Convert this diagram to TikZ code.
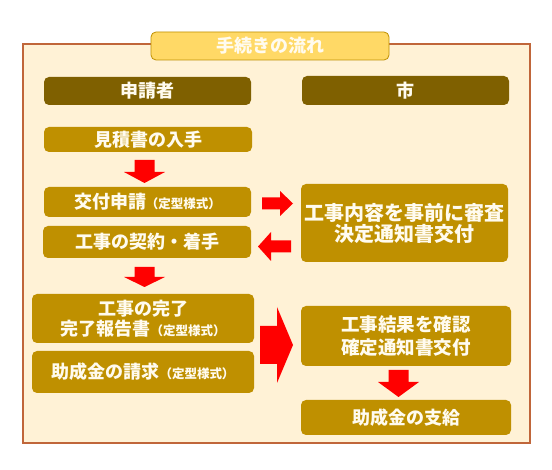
\documentclass[tikz,border=0pt]{standalone}
\usepackage{fontspec}
\setmainfont{Noto Sans CJK JP}
\definecolor{framefill}{HTML}{FFF2D6}
\definecolor{framedraw}{HTML}{C0663A}
\definecolor{titlefill}{HTML}{FFD966}
\definecolor{titledraw}{HTML}{BF9000}
\definecolor{headfill}{HTML}{7F6000}
\definecolor{boxfill}{HTML}{BF9000}
\definecolor{arrowred}{HTML}{FF0000}
\definecolor{txt}{HTML}{FFFBEF}
\newcommand{\smalltxt}[1]{{\fontsize{12.5}{14}\selectfont #1}}
\begin{document}
\begin{tikzpicture}[x=1pt,y=-1pt,
  base/.style={rectangle, rounded corners=5pt, inner sep=0pt, align=center, text=txt},
  box/.style={base, fill=boxfill, font=\bfseries\fontsize{18}{20}\selectfont},
  headbox/.style={base, fill=headfill, font=\bfseries\fontsize{18}{20}\selectfont},
  titlebox/.style={base, fill=titlefill, draw=titledraw, line width=0.8pt, font=\bfseries\fontsize{18}{20}\selectfont},
  blockarrow/.style={fill=arrowred}
]
\useasboundingbox (0,0) rectangle (552,470);
\fill[white] (0,0) rectangle (552,470);
% frame
\draw[fill=framefill, draw=framedraw, line width=1.5pt] (23,44) rectangle (530,443);
\node[titlebox, minimum width=238, minimum height=28] (title) at (270,46) {手続きの流れ};
% headers
\node[headbox, minimum width=207, minimum height=28] (hL) at (147.5,91) {申請者};
\node[headbox, minimum width=207, minimum height=29] (hR) at (405.5,90.5) {市};
% left column
\node[box, minimum width=208, minimum height=25] (b1) at (148,139.5) {見積書の入手};
\node[box, minimum width=207, minimum height=30] (b2) at (147.5,202) {交付申請\smalltxt{（定型様式）}};
\node[box, minimum width=208, minimum height=32] (b3) at (147,242) {工事の契約・着手};
\node[box, minimum width=222, minimum height=49] (b4) at (143,318.5) {工事の完了\\完了報告書\smalltxt{（定型様式）}};
\node[box, minimum width=222, minimum height=42] (b5) at (143,372) {助成金の請求\smalltxt{（定型様式）}};
% right column
\node[box, minimum width=207, minimum height=78, font=\bfseries\fontsize{20}{21}\selectfont] (r1) at (404.5,223) {工事内容を事前に審査\\決定通知書交付};
\node[box, minimum width=210, minimum height=60, font=\bfseries\fontsize{18.5}{23}\selectfont] (r2) at (406,336) {工事結果を確認\\確定通知書交付};
\node[box, minimum width=210, minimum height=35] (r3) at (406,417.5) {助成金の支給};
% block arrows
% b1 -> b2
\fill[blockarrow] (134.5,160) -- (154.5,160) -- (154.5,172) -- (165,172) -- (144.5,183) -- (124,172) -- (134.5,172) -- cycle;
% b3 -> b4
\fill[blockarrow] (134.5,267) -- (154.5,267) -- (154.5,277) -- (165,277) -- (144.5,287) -- (124,277) -- (134.5,277) -- cycle;
% r2 -> r3
\fill[blockarrow] (388.5,370) -- (408.5,370) -- (408.5,382) -- (419,382) -- (398.5,397) -- (378,382) -- (388.5,382) -- cycle;
% b2 -> r1
\fill[blockarrow] (262,197.5) -- (280,197.5) -- (280,191) -- (293,203.5) -- (280,216) -- (280,209.5) -- (262,209.5) -- cycle;
% r1 -> b3
\fill[blockarrow] (291,240.5) -- (271,240.5) -- (271,232) -- (258,246.5) -- (271,261) -- (271,252.5) -- (291,252.5) -- cycle;
% b4,b5 -> r2
\fill[blockarrow] (260,326) -- (277,326) -- (277,307) -- (293,345) -- (277,383) -- (277,364) -- (260,364) -- cycle;
\end{tikzpicture}
\end{document}
